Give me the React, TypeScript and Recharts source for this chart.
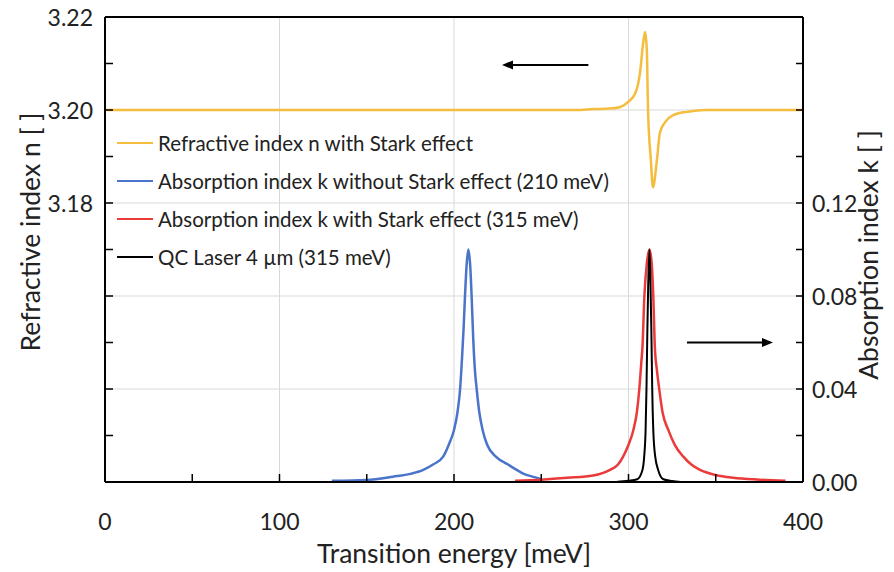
import React from 'react';
import { LineChart, Line, XAxis, YAxis, ReferenceLine, Legend } from 'recharts';

// ---- data ----
const nEnergy = [0, 270, 280, 289, 295, 300, 304, 306.6, 308.4, 309.5, 310.5, 311.2, 312.8, 314, 316.3, 318, 321, 325.6, 333.5, 337, 345, 400];
const nValue = [3.2, 3.2, 3.2002, 3.2003, 3.2006, 3.2018, 3.2037, 3.208, 3.2144, 3.2168, 3.2129, 3.2, 3.1893, 3.1834, 3.1893, 3.1951, 3.1974, 3.1989, 3.1996, 3.1998, 3.2, 3.2];

const k210Energy = [130, 150, 165, 175, 182.4, 188, 193.8, 197, 200, 202, 203.5, 204.5, 205.5, 206.3, 207.3, 208.2, 209.2, 210.1, 211, 212, 213, 214.5, 216.4, 219, 224, 231, 235.9, 240, 245, 250];
const k210Value = [0.0005, 0.0009, 0.0023, 0.0035, 0.0052, 0.0075, 0.0109, 0.016, 0.0224, 0.03, 0.04, 0.052, 0.066, 0.08, 0.094, 0.1, 0.094, 0.08, 0.062, 0.048, 0.04, 0.03, 0.0224, 0.016, 0.0109, 0.0075, 0.0052, 0.0035, 0.0023, 0.0012];

const k315Energy = [235, 250, 265, 279.7, 289.4, 294, 297, 300, 302.8, 304.8, 306.2, 307.4, 308, 309.1, 310.5, 312, 313.3, 314.2, 315.1, 316.3, 317.6, 319.5, 322.8, 326.5, 331.3, 336, 341, 350, 360, 375, 390];
const k315Value = [0.0005, 0.001, 0.0018, 0.0028, 0.0052, 0.0075, 0.011, 0.016, 0.0224, 0.03, 0.04, 0.052, 0.058, 0.08, 0.094, 0.1, 0.094, 0.08, 0.058, 0.048, 0.04, 0.03, 0.0224, 0.016, 0.011, 0.0075, 0.0052, 0.003, 0.0018, 0.001, 0.0005];

const laserEnergy = [293, 300, 305, 308, 309, 309.8, 310.3, 310.8, 311.3, 312, 312.6, 313.1, 313.6, 314.2, 315.3, 317, 320, 325, 330];
const laserValue = [0, 0.0005, 0.0012, 0.0052, 0.011, 0.0224, 0.04, 0.065, 0.085, 0.1, 0.085, 0.065, 0.04, 0.0224, 0.011, 0.0052, 0.0012, 0.0004, 0];

const xTicks = [0, 50, 100, 150, 200, 250, 300, 350, 400];
const xLabelled = [0, 100, 200, 300, 400];
const nTicks = [3.12, 3.13, 3.14, 3.15, 3.16, 3.17, 3.18, 3.19, 3.2, 3.21, 3.22];
const nLabelled = [3.18, 3.2, 3.22];
const kTicks = [0, 0.02, 0.04, 0.06, 0.08, 0.1, 0.12, 0.14, 0.16, 0.18, 0.2];
const kLabelled = [0, 0.04, 0.08, 0.12];
const gridX = [100, 200, 300];
const gridN = [3.14, 3.16, 3.18, 3.2];

const seriesNames = [
  'Refractive index n with Stark effect',
  'Absorption index k without Stark effect (210 meV)',
  'Absorption index k with Stark effect (315 meV)',
  'QC Laser 4 µm (315 meV)',
];

const zip = (xs: number[], ys: number[]) => xs.map((x, i) => ({ x, v: ys[i] }));
const nData = zip(nEnergy, nValue);
const k210Data = zip(k210Energy, k210Value);
const k315Data = zip(k315Energy, k315Value);
const laserData = zip(laserEnergy, laserValue);

const FONT = 'Lato, "Noto Sans", sans-serif';
const TXT = '#222';
const TICK_FS = 23;
const TITLE_FS = 26.5;
const isIn = (arr: number[], v: number) => arr.some((a) => Math.abs(a - v) < 1e-9);

const XTick = (props: any) => {
  const { x, y, payload } = props;
  const v = payload.value;
  const inner = v !== 0 && v !== 400;
  return (
    <g>
      {inner && <line x1={x} y1={y} x2={x} y2={y - 8} stroke="#000" strokeWidth={1.5} />}
      {isIn(xLabelled, v) && (
        <text x={x} y={y + 39} textAnchor="middle" dominantBaseline="central" fontFamily={FONT} fontSize={TICK_FS} fill={TXT}>
          {v}
        </text>
      )}
    </g>
  );
};

const NTick = (props: any) => {
  const { x, y, payload } = props;
  const v = payload.value;
  const inner = v > 3.125 && v < 3.215;
  return (
    <g>
      {inner && <line x1={x} y1={y} x2={x + 8} y2={y} stroke="#000" strokeWidth={1.5} />}
      {isIn(nLabelled, v) && (
        <text x={x - 12} y={y} textAnchor="end" dominantBaseline="central" fontFamily={FONT} fontSize={TICK_FS} fill={TXT}>
          {v.toFixed(2)}
        </text>
      )}
    </g>
  );
};

const KTick = (props: any) => {
  const { x, y, payload } = props;
  const v = payload.value;
  const inner = v > 0.005 && v < 0.195;
  return (
    <g>
      {inner && <line x1={x} y1={y} x2={x - 7} y2={y} stroke="#000" strokeWidth={1.5} />}
      {isIn(kLabelled, v) && (
        <text x={x + 9} y={y} textAnchor="start" dominantBaseline="central" fontFamily={FONT} fontSize={TICK_FS} fill={TXT}>
          {v.toFixed(2)}
        </text>
      )}
    </g>
  );
};

const Arrow = (props: any) => {
  const { x1, y1, x2, y2 } = props;
  const dx = x2 - x1;
  const dy = y2 - y1;
  const len = Math.sqrt(dx * dx + dy * dy) || 1;
  const ux = dx / len;
  const uy = dy / len;
  const hl = 11;
  const hw = 4.5;
  const bx = x2 - ux * hl;
  const by = y2 - uy * hl;
  return (
    <g>
      <line x1={x1} y1={y1} x2={bx} y2={by} stroke="#000" strokeWidth={2} />
      <polygon
        points={`${x2},${y2} ${bx - uy * hw},${by + ux * hw} ${bx + uy * hw},${by - ux * hw}`}
        fill="#000"
      />
    </g>
  );
};

const LegendBox = (props: any) => {
  const items = [...(props.payload || [])].sort(
    (a: any, b: any) => seriesNames.indexOf(a.value) - seriesNames.indexOf(b.value)
  );
  return (
    <div style={{ fontFamily: FONT, fontSize: 20.5, color: TXT, whiteSpace: 'nowrap' }}>
      {items.map((p: any, i: number) => (
        <div key={i} style={{ display: 'flex', alignItems: 'center', height: 37.8 }}>
          <div style={{ width: 36, height: 2, background: p.color, marginRight: 5 }} />
          <span>{p.value}</span>
        </div>
      ))}
    </div>
  );
};

const leftTitle = (props: any) => {
  const cx = 30;
  const cy = 232;
  return (
    <text x={cx} y={cy} transform={`rotate(-90 ${cx} ${cy})`} textAnchor="middle" dominantBaseline="central" fontFamily={FONT} fontSize={TITLE_FS} fill={TXT}>
      Refractive index n [ ]
    </text>
  );
};

const rightTitle = (props: any) => {
  const cx = 868;
  const cy = 255;
  return (
    <text x={cx} y={cy} transform={`rotate(-90 ${cx} ${cy})`} textAnchor="middle" dominantBaseline="central" fontFamily={FONT} fontSize={TITLE_FS} fill={TXT}>
      Absorption index k [ ]
    </text>
  );
};

const bottomTitle = (props: any) => {
  const vb = props.viewBox;
  const cx = vb.x + vb.width / 2;
  const cy = 553;
  return (
    <text x={cx} y={cy} textAnchor="middle" dominantBaseline="central" fontFamily={FONT} fontSize={TITLE_FS} fill={TXT}>
      Transition energy [meV]
    </text>
  );
};

export default function App() {
  return (
    <div style={{ margin: '-8px 0 0 -8px', width: 894, height: 572 }}>
      <LineChart width={894} height={572} margin={{ top: 17, right: 0, bottom: 0, left: 0 }}>
        <XAxis
          dataKey="x"
          type="number"
          domain={[0, 400]}
          ticks={xTicks}
          interval={0}
          allowDataOverflow
          height={90}
          tickSize={0}
          tickMargin={0}
          tickLine={false}
          axisLine={{ stroke: '#000', strokeWidth: 2 }}
          tick={<XTick />}
          label={{ content: bottomTitle }}
        />
        <YAxis
          yAxisId="n"
          orientation="left"
          type="number"
          domain={[3.12, 3.22]}
          ticks={nTicks}
          interval={0}
          allowDataOverflow
          width={105}
          tickSize={0}
          tickMargin={0}
          tickLine={false}
          axisLine={{ stroke: '#000', strokeWidth: 2 }}
          tick={<NTick />}
          label={{ content: leftTitle }}
        />
        <YAxis
          yAxisId="k"
          orientation="right"
          type="number"
          domain={[0, 0.2]}
          ticks={kTicks}
          interval={0}
          allowDataOverflow
          width={91}
          tickSize={0}
          tickMargin={0}
          tickLine={false}
          axisLine={{ stroke: '#000', strokeWidth: 2 }}
          tick={<KTick />}
          label={{ content: rightTitle }}
        />
        {gridX.map((g) => (
          <ReferenceLine key={'gx' + g} x={g} yAxisId="n" stroke="#d9d9d9" strokeWidth={1} />
        ))}
        {gridN.map((g) => (
          <ReferenceLine key={'gy' + g} y={g} yAxisId="n" stroke="#d9d9d9" strokeWidth={1} />
        ))}
        <ReferenceLine y={3.22} yAxisId="n" stroke="#000" strokeWidth={2} />
        <Line data={nData} yAxisId="n" dataKey="v" name={seriesNames[0]} stroke="#F5BD3E" strokeWidth={2.5} dot={false} activeDot={false} type="monotone" isAnimationActive={false} />
        <Line data={k210Data} yAxisId="k" dataKey="v" name={seriesNames[1]} stroke="#4A74C9" strokeWidth={2.5} dot={false} activeDot={false} type="monotone" isAnimationActive={false} />
        <Line data={k315Data} yAxisId="k" dataKey="v" name={seriesNames[2]} stroke="#EB3A3A" strokeWidth={2.5} dot={false} activeDot={false} type="monotone" isAnimationActive={false} />
        <Line data={laserData} yAxisId="k" dataKey="v" name={seriesNames[3]} stroke="#000" strokeWidth={2} dot={false} activeDot={false} type="monotone" isAnimationActive={false} />
        <ReferenceLine
          yAxisId="n"
          segment={[{ x: 277, y: 3.2097 }, { x: 227.5, y: 3.2097 }]}
          shape={Arrow}
        />
        <ReferenceLine
          yAxisId="k"
          segment={[{ x: 333.5, y: 0.06 }, { x: 382.8, y: 0.06 }]}
          shape={Arrow}
        />
        <Legend
          layout="vertical"
          align="center"
          verticalAlign="middle"
          content={<LegendBox />}
          wrapperStyle={{ position: 'absolute', left: 117, top: 124.4, width: 'auto' }}
        />
      </LineChart>
    </div>
  );
}
